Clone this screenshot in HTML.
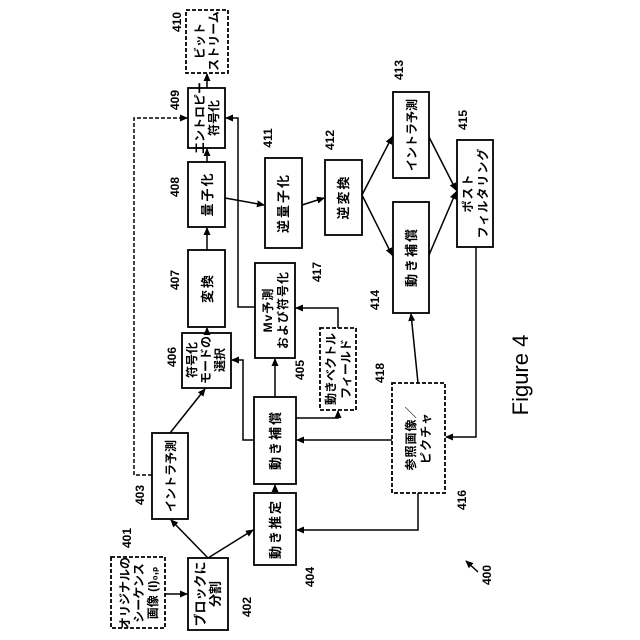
<!DOCTYPE html>
<html><head><meta charset="utf-8"><style>
html,body{margin:0;padding:0;background:#fff;}
svg{display:block;}
text{font-family:"Liberation Sans","Noto Sans CJK JP",sans-serif;fill:#000;}
.b{font-size:12px;font-weight:bold;}
.s{font-size:13px;font-weight:bold;letter-spacing:2px;}
.n{font-size:12px;font-weight:bold;}
</style></head><body>
<svg width="640" height="640" viewBox="0 0 640 640" xmlns="http://www.w3.org/2000/svg">
<defs>
<marker id="a" markerWidth="8" markerHeight="8" refX="7" refY="4" orient="auto" markerUnits="userSpaceOnUse">
<path d="M0,0.5 L8,4 L0,7.5 Z" fill="#000"/></marker>
</defs>
<g fill="#fff" stroke="#000" stroke-width="1.8">
<rect x="111" y="557" width="54" height="71" stroke-dasharray="4,2"/>
<rect x="188" y="558" width="40" height="72"/>
<rect x="152" y="433" width="36" height="86"/>
<rect x="254" y="493" width="42" height="72"/>
<rect x="254" y="397" width="42" height="87"/>
<rect x="182" y="333" width="49" height="55"/>
<rect x="320" y="328" width="36" height="82" stroke-dasharray="4,2"/>
<rect x="392" y="383" width="53" height="110" stroke-dasharray="4,2"/>
<rect x="255" y="263" width="40" height="95"/>
<rect x="188" y="250" width="37" height="77"/>
<rect x="188" y="162" width="37" height="65"/>
<rect x="188" y="88" width="37" height="60"/>
<rect x="186" y="10" width="42" height="63" stroke-dasharray="4,2"/>
<rect x="265" y="158" width="37" height="90"/>
<rect x="325" y="160" width="37" height="75"/>
<rect x="393" y="92" width="36" height="86"/>
<rect x="393" y="202" width="36" height="111"/>
<rect x="457" y="140" width="36" height="107"/>
</g>
<g fill="none" stroke="#000" stroke-width="1.5">
<line x1="165" y1="594" x2="187" y2="594" marker-end="url(#a)"/>
<line x1="208" y1="558" x2="171" y2="520" marker-end="url(#a)"/>
<line x1="208" y1="558" x2="253" y2="530" marker-end="url(#a)"/>
<line x1="170" y1="433" x2="205" y2="389" marker-end="url(#a)"/>
<polyline points="152,475 134,475 134,118 187,118" stroke-dasharray="4,2" marker-end="url(#a)"/>
<line x1="275" y1="493" x2="275" y2="485" marker-end="url(#a)"/>
<line x1="275" y1="397" x2="275" y2="359" marker-end="url(#a)"/>
<polyline points="254,440 243,440 243,360 232,360" marker-end="url(#a)"/>
<polyline points="296,418 338,418 338,411" marker-end="url(#a)"/>
<line x1="392" y1="440" x2="297" y2="440" marker-end="url(#a)"/>
<polyline points="418,493 418,530 297,530" marker-end="url(#a)"/>
<polyline points="338,328 338,308 296,308" marker-end="url(#a)"/>
<polyline points="255,307 238,307 238,118 226,118" marker-end="url(#a)"/>
<line x1="207" y1="250" x2="207" y2="228" marker-end="url(#a)"/>
<line x1="207" y1="162" x2="207" y2="149" marker-end="url(#a)"/>
<line x1="207" y1="88" x2="207" y2="74" marker-end="url(#a)"/>
<line x1="207" y1="333" x2="207" y2="328" marker-end="url(#a)"/>
<line x1="225" y1="198" x2="264" y2="205" marker-end="url(#a)"/>
<line x1="302" y1="205" x2="324" y2="198" marker-end="url(#a)"/>
<line x1="362" y1="195" x2="392" y2="137" marker-end="url(#a)"/>
<line x1="362" y1="195" x2="392" y2="255" marker-end="url(#a)"/>
<line x1="429" y1="137" x2="456" y2="190" marker-end="url(#a)"/>
<line x1="429" y1="255" x2="456" y2="192" marker-end="url(#a)"/>
<polyline points="476,247 476,437 446,437" marker-end="url(#a)"/>
<line x1="418" y1="383" x2="411" y2="314" marker-end="url(#a)"/>
<line x1="478" y1="572" x2="466" y2="561" marker-end="url(#a)"/>
</g>
<g text-anchor="middle">
<text class="b" transform="translate(138,593) rotate(-90)"><tspan x="0" dy="-9">オリジナルの</tspan><tspan x="0" dy="14">シーケンス</tspan><tspan x="0" dy="14">画像 (I)₀,ₚ</tspan></text>
<text class="s" transform="translate(208,594) rotate(-90)" style="letter-spacing:0"><tspan x="0" dy="-3">ブロックに</tspan><tspan x="0" dy="15">分割</tspan></text>
<text class="b" transform="translate(170,476) rotate(-90)" dy="5">イントラ予測</text>
<text class="s" transform="translate(275,529) rotate(-90)" dy="5">動き推定</text>
<text class="s" transform="translate(275,440) rotate(-90)" dy="5">動き補償</text>
<text class="b" transform="translate(206,360) rotate(-90)"><tspan x="0" dy="-10">符号化</tspan><tspan x="0" dy="14">モードの</tspan><tspan x="0" dy="14">選択</tspan></text>
<text class="b" transform="translate(338,369) rotate(-90)"><tspan x="0" dy="-3">動きベクトル</tspan><tspan x="0" dy="15">フィールド</tspan></text>
<text class="b" transform="translate(418,438) rotate(-90)" style="letter-spacing:1px"><tspan x="0" dy="-3">参照画像／</tspan><tspan x="0" dy="15">ピクチャ</tspan></text>
<text class="b" transform="translate(275,310) rotate(-90)" style="letter-spacing:1px"><tspan x="0" dy="-3">Mv予測</tspan><tspan x="0" dy="15">および符号化</tspan></text>
<text class="s" transform="translate(207,288) rotate(-90)" dy="5">変換</text>
<text class="s" transform="translate(207,194) rotate(-90)" dy="5">量子化</text>
<text class="b" transform="translate(207,118) rotate(-90)"><tspan x="0" dy="-3">エントロピー</tspan><tspan x="0" dy="14">符号化</tspan></text>
<text class="b" transform="translate(207,41) rotate(-90)"><tspan x="0" dy="-3">ビット</tspan><tspan x="0" dy="14">ストリーム</tspan></text>
<text class="s" transform="translate(283,203) rotate(-90)" dy="5">逆量子化</text>
<text class="s" transform="translate(343,197) rotate(-90)" dy="5">逆変換</text>
<text class="b" transform="translate(411,135) rotate(-90)" dy="5">イントラ予測</text>
<text class="s" transform="translate(411,257) rotate(-90)" dy="5">動き補償</text>
<text class="b" transform="translate(475,193) rotate(-90)" style="letter-spacing:1px"><tspan x="0" dy="-3">ポスト</tspan><tspan x="0" dy="15">フィルタリング</tspan></text>
</g>
<g class="n" text-anchor="middle">
<text transform="translate(131,538) rotate(-90)">401</text>
<text transform="translate(251,607) rotate(-90)">402</text>
<text transform="translate(144,495) rotate(-90)">403</text>
<text transform="translate(314,577) rotate(-90)">404</text>
<text transform="translate(304,370) rotate(-90)">405</text>
<text transform="translate(176,357) rotate(-90)">406</text>
<text transform="translate(179,280) rotate(-90)">407</text>
<text transform="translate(179,187) rotate(-90)">408</text>
<text transform="translate(179,100) rotate(-90)">409</text>
<text transform="translate(181,22) rotate(-90)">410</text>
<text transform="translate(272,138) rotate(-90)">411</text>
<text transform="translate(334,140) rotate(-90)">412</text>
<text transform="translate(403,70) rotate(-90)">413</text>
<text transform="translate(379,300) rotate(-90)">414</text>
<text transform="translate(467,120) rotate(-90)">415</text>
<text transform="translate(466,500) rotate(-90)">416</text>
<text transform="translate(321,272) rotate(-90)">417</text>
<text transform="translate(384,373) rotate(-90)">418</text>
<text transform="translate(491,575) rotate(-90)">400</text>
</g>
<text transform="translate(528,375) rotate(-90)" text-anchor="middle" style="font-size:22px;">Figure 4</text>
</svg>
</body></html>
